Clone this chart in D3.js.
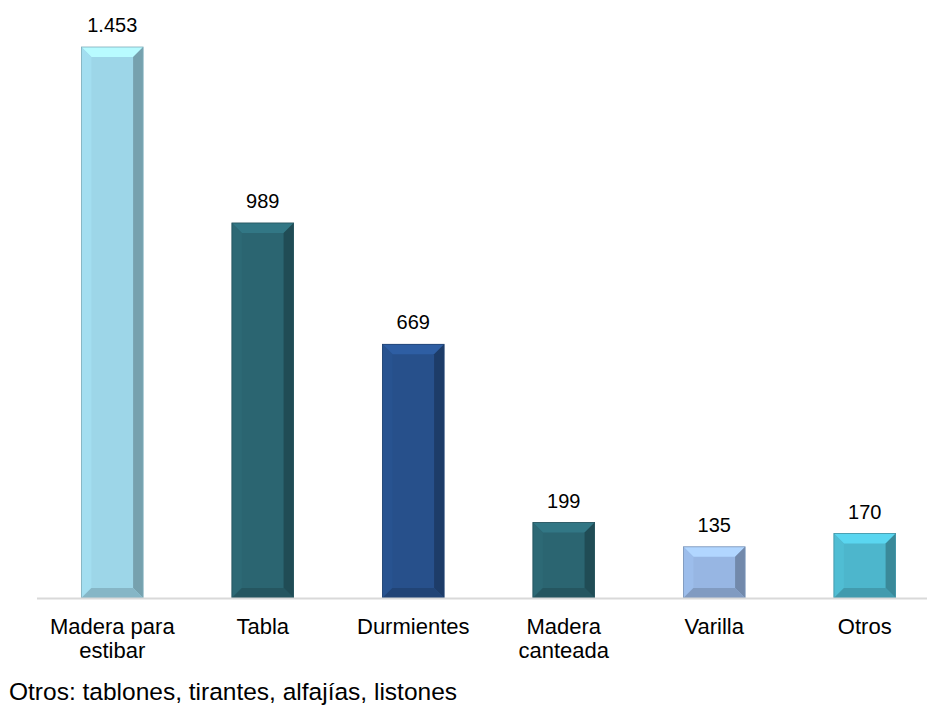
<!DOCTYPE html>
<html><head><meta charset="utf-8">
<script src="https://cdn.jsdelivr.net/npm/d3@7"></script>
<style>body{margin:0;background:#fff;} svg{display:block;}</style>
</head><body>
<svg id="c" width="927" height="708"></svg>
<script>
const categories = [["Madera para","estibar"],["Tabla"],["Durmientes"],["Madera","canteada"],["Varilla"],["Otros"]];
const values = [1453, 989, 669, 199, 135, 170];
const valueLabels = ["1.453","989","669","199","135","170"];
const colors = ["#9dd6e8","#2b6571","#27508b","#2b6571","#97b6e3","#4db6cc"];
const footnote = "Otros: tablones, tirantes, alfajías, listones";

const svg = d3.select("#c");
const font = "'Liberation Sans', Arial, sans-serif";
const x = d3.scaleBand().domain(d3.range(values.length)).range([37, 940]).paddingInner(0.59).paddingOuter(0.295);
const y = d3.scaleLinear().domain([0, 1453]).range([598, 47]);

const bw = x.bandwidth();
const bev = 10;
const g = svg.append("g");
values.forEach((v, i) => {
  const x0 = x(i), x1 = x0 + bw, y0 = y(v), y1 = y(0);
  const c = d3.color(colors[i]);
  const b = Math.min(bev, (y1 - y0) / 2);
  const gg = g.append("g");
  gg.append("rect").attr("x", x0).attr("y", y0).attr("width", bw).attr("height", y1 - y0).attr("fill", c);
  gg.append("polygon").attr("points", [[x0,y0],[x1,y0],[x1-b,y0+b],[x0+b,y0+b]].join(" ")).attr("fill", c.brighter(0.45));
  gg.append("polygon").attr("points", [[x0,y0],[x0+b,y0+b],[x0+b,y1-b],[x0,y1]].join(" ")).attr("fill", c.brighter(0.1));
  gg.append("polygon").attr("points", [[x1,y0],[x1,y1],[x1-b,y1-b],[x1-b,y0+b]].join(" ")).attr("fill", c.darker(0.8));
  gg.append("polygon").attr("points", [[x0,y1],[x0+b,y1-b],[x1-b,y1-b],[x1,y1]].join(" ")).attr("fill", c.darker(0.45));
  gg.append("rect").attr("x", x0).attr("y", y0).attr("width", bw).attr("height", y1 - y0).attr("fill", "none").attr("stroke", c.darker(0.6)).attr("stroke-width", 0.8);
});

svg.append("line").attr("x1", 37).attr("x2", 927).attr("y1", y(0) + 0.5).attr("y2", y(0) + 0.5).attr("stroke", "#d9d9d9").attr("stroke-width", 2);

svg.selectAll("text.val").data(values).enter().append("text")
  .attr("x", (d, i) => x(i) + bw / 2).attr("y", d => y(d) - 15)
  .attr("text-anchor", "middle").attr("font-family", font).attr("font-size", 20).attr("fill", "#000")
  .text((d, i) => valueLabels[i]);

categories.forEach((lines, i) => {
  const t = svg.append("text").attr("x", x(i) + bw / 2).attr("y", 634).attr("text-anchor", "middle")
    .attr("font-family", font).attr("font-size", 22).attr("fill", "#000");
  lines.forEach((l, j) => t.append("tspan").attr("x", x(i) + bw / 2).attr("dy", j === 0 ? 0 : 24).text(l));
});

svg.append("text").attr("x", 9).attr("y", 700).attr("font-family", font).attr("font-size", 24.5).attr("fill", "#000").text(footnote);
</script>
</body></html>
